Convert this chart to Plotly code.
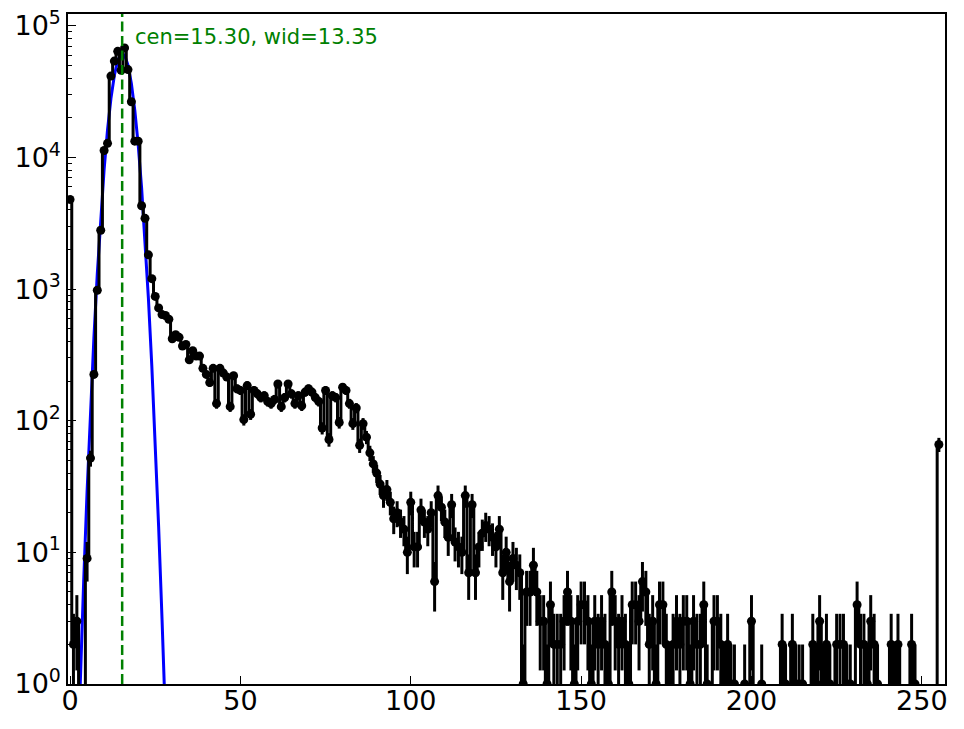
import numpy as np
import plotly.graph_objects as go

# ---- data ----
counts = [
    4800, 2, 3, 0, 0, 9, 52, 225, 980, 2800,                 # 0-9
    11300, 12800, 41500, 54000, 64000, 46000, 68000, 46500, 26500, 13300,  # 10-19
    13300, 4300, 3450, 1820, 1200, 880, 720, 640, 630, 590,  # 20-29
    420, 450, 430, 370, 380, 290, 340, 310, 310, 250,        # 30-39
    225, 195, 250, 135, 250, 230, 215, 128, 220, 175,        # 40-49
    170, 102, 185, 112, 170, 160, 150, 155, 140, 135,        # 50-59
    145, 190, 128, 150, 190, 160, 135, 155, 130, 165,        # 60-69
    175, 165, 150, 140, 88, 170, 72, 155, 150, 97,           # 70-79
    180, 170, 135, 95, 125, 65, 95, 75, 57, 47,              # 80-89
    40, 33, 27, 30, 24, 18, 20, 17, 15, 10,                  # 90-99
    24, 11, 11, 21, 17, 15, 20, 6, 27, 22,                   # 100-109
    17, 13, 23, 12, 11, 10, 27, 7, 23, 7,                    # 110-119
    11, 14, 16, 15, 13, 11, 15, 7, 10, 6,                    # 120-129
    9, 8, 7, 1, 5, 5, 8, 5, 3, 3,                            # 130-139
    1, 4, 2, 2, 2, 3, 5, 3, 1, 3,                            # 140-149
    4, 4, 3, 1, 3, 2, 3, 2, 1, 5,                            # 150-159
    3, 2, 3, 2, 1, 4, 4, 3, 6, 5,                            # 160-169
    2, 3, 1, 4, 4, 2, 1, 2, 3, 2,                            # 170-179
    3, 3, 1, 3, 2, 2, 4, 1, 0, 3,                            # 180-189
    3, 2, 1, 2, 1, 1, 0, 0, 1, 0,                            # 190-199
    3, 0, 0, 1, 0, 0, 0, 0, 0, 2,                            # 200-209
    1, 0, 2, 1, 1, 1, 0, 0, 2, 1,                            # 210-219
    3, 1, 2, 1, 0, 2, 2, 2, 1, 1,                            # 220-229
    0, 4, 2, 2, 1, 3, 2, 1, 0, 0,                            # 230-239
    0, 2, 1, 2, 0, 0, 0, 2, 1, 0,                            # 240-249
    0, 0, 0, 0, 0, 66,                                       # 250-255
]
bins = list(range(len(counts)))
errors = [float(np.sqrt(c)) for c in counts]

# Gaussian fit curve
fit_x = [2, 3, 4, 5, 6, 7, 8, 9, 10, 11, 12, 13, 14, 15, 16, 17, 18, 19,
         20, 21, 22, 23, 24, 25, 26, 27, 28]
fit_y = [0.17, 1.1, 6.0, 29, 119, 425, 1310, 3500, 8100, 16200, 28000, 42000,
         54600, 61600, 60000, 50300, 36500, 22900, 12500, 5900, 2400, 850,
         260, 69, 15.7, 3.1, 0.54]

cen = 15.30
wid = 13.35

x_ticks = [0, 50, 100, 150, 200, 250]
y_exps = [0, 1, 2, 3, 4, 5]

# ---- figure ----
FONT = "DejaVu Sans"
fig = go.Figure()

fig.add_trace(go.Scatter(
    x=fit_x, y=fit_y, mode="lines",
    line=dict(color="#0000ff", width=3),
    showlegend=False, hoverinfo="skip",
))

fig.add_trace(go.Scatter(
    x=bins, y=counts, mode="lines+markers",
    line=dict(color="black", width=3, shape="hvh"),
    marker=dict(color="black", size=9),
    error_y=dict(type="data", array=errors, visible=True,
                 color="black", thickness=3, width=0),
    showlegend=False,
))

fig.add_shape(type="line", xref="x", yref="paper", x0=cen, x1=cen, y0=0, y1=1,
              line=dict(color="#008000", width=2.5, dash="10px,4.5px"))

fig.add_annotation(text=f"cen={cen:.2f}, wid={wid:.2f}",
                   xref="paper", yref="paper", x=0.0738, y=0.966,
                   xanchor="left", yanchor="middle", showarrow=False,
                   font=dict(family=FONT, size=21, color="#008000"))

minor_vals = [k * 10 ** d for d in range(0, 5) for k in range(2, 10)]

fig.update_layout(
    template="none",
    width=956, height=721,
    margin=dict(l=60, r=19, t=6, b=45, autoexpand=False),
    paper_bgcolor="white", plot_bgcolor="white",
    font=dict(family=FONT, size=27, color="black"),
    xaxis=dict(
        range=[-0.6, 256.8], showgrid=False, zeroline=False, automargin=False,
        showline=True, linecolor="black", linewidth=1.5, mirror=True,
        ticks="inside", ticklen=8, tickwidth=1.2, tickcolor="black",
        tickvals=x_ticks, ticktext=[str(v) for v in x_ticks],
        tickfont=dict(family=FONT, size=27, color="black"),
        ticklabelstandoff=-8, ticklabeloverflow="allow",
    ),
    yaxis=dict(
        type="log", range=[0, 5.09], showgrid=False, zeroline=False, automargin=False,
        showline=True, linecolor="black", linewidth=1.5, mirror=True,
        ticks="inside", ticklen=8, tickwidth=1.2, tickcolor="black",
        tickvals=[10 ** e for e in y_exps],
        ticktext=[f"10<sup>{e}</sup>" for e in y_exps],
        tickfont=dict(family=FONT, size=27, color="black"),
        ticklabeloverflow="allow",
        minor=dict(tickvals=minor_vals, ticks="inside", ticklen=4,
                   tickwidth=1, tickcolor="black", showgrid=False),
    ),
)

fig.write_html("out.html")
